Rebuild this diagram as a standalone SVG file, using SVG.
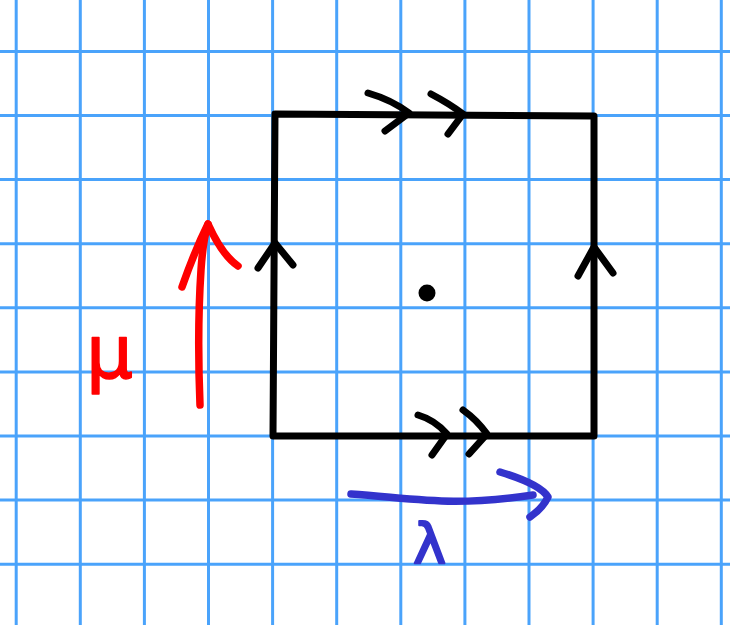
<svg xmlns="http://www.w3.org/2000/svg" width="730" height="625" viewBox="0 0 730 625">
<style>
.grid line{stroke:#4aa3fb;stroke-width:3}
.blk{fill:none;stroke:#000;stroke-width:7;stroke-linecap:round;stroke-linejoin:round}
.red{fill:none;stroke:#ff0000;stroke-width:7.5;stroke-linecap:round;stroke-linejoin:round}
.blue{fill:none;stroke:#3333cc;stroke-width:7.5;stroke-linecap:round;stroke-linejoin:round}
</style>
<rect width="730" height="625" fill="#fff"/>
<g class="grid">
<line x1="16.2" y1="0" x2="16.2" y2="625"/>
<line x1="80.3" y1="0" x2="80.3" y2="625"/>
<line x1="144.4" y1="0" x2="144.4" y2="625"/>
<line x1="208.5" y1="0" x2="208.5" y2="625"/>
<line x1="272.6" y1="0" x2="272.6" y2="625"/>
<line x1="336.7" y1="0" x2="336.7" y2="625"/>
<line x1="400.8" y1="0" x2="400.8" y2="625"/>
<line x1="464.9" y1="0" x2="464.9" y2="625"/>
<line x1="529" y1="0" x2="529" y2="625"/>
<line x1="593.1" y1="0" x2="593.1" y2="625"/>
<line x1="657.2" y1="0" x2="657.2" y2="625"/>
<line x1="721.3" y1="0" x2="721.3" y2="625"/>
<line x1="0" y1="51.4" x2="730" y2="51.4"/>
<line x1="0" y1="115.5" x2="730" y2="115.5"/>
<line x1="0" y1="179.6" x2="730" y2="179.6"/>
<line x1="0" y1="243.7" x2="730" y2="243.7"/>
<line x1="0" y1="307.8" x2="730" y2="307.8"/>
<line x1="0" y1="371.9" x2="730" y2="371.9"/>
<line x1="0" y1="436" x2="730" y2="436"/>
<line x1="0" y1="500.1" x2="730" y2="500.1"/>
<line x1="0" y1="564.2" x2="730" y2="564.2"/>
</g>
<g id="square">
<path class="blk" d="M275,114 L594,116 L594,436 L273,436 Z"/>
<path class="blk" d="M368,93 Q392,100 409,113 L385,131"/>
<path class="blk" d="M431,94 Q450,104 463,114 L448,134"/>
<path class="blk" d="M258,268 L275,243 L293,265"/>
<path class="blk" d="M578,276 L594,247 L613,273"/>
<path class="blk" d="M418,415 Q435,420 447,434 L432,455"/>
<path class="blk" d="M463,410 Q477,420 487,434 L469,454"/>
<circle cx="427" cy="293" r="8.5" fill="#000"/>
</g>
<g id="mu">
<path class="red" d="M200,405 Q197,330 201,270 Q203,240 208,224"/>
<path class="red" d="M182,287 Q195,250 208,224 Q222,255 238,266"/>
<text x="86" y="378" font-family="DejaVu Sans, sans-serif" font-size="74" fill="#ff0000" stroke="#ff0000" stroke-width="1.5" stroke-linejoin="round">μ</text>
</g>
<g id="lambda">
<path class="blue" d="M351,494 C420,499 450,507 533,495"/>
<path class="blue" d="M500,472 Q540,484 548,497 Q543,508 530,517"/>
<text x="413" y="563" font-family="DejaVu Sans, sans-serif" font-size="56" fill="#3333cc" stroke="#3333cc" stroke-width="2" stroke-linejoin="round">λ</text>
</g>
</svg>
